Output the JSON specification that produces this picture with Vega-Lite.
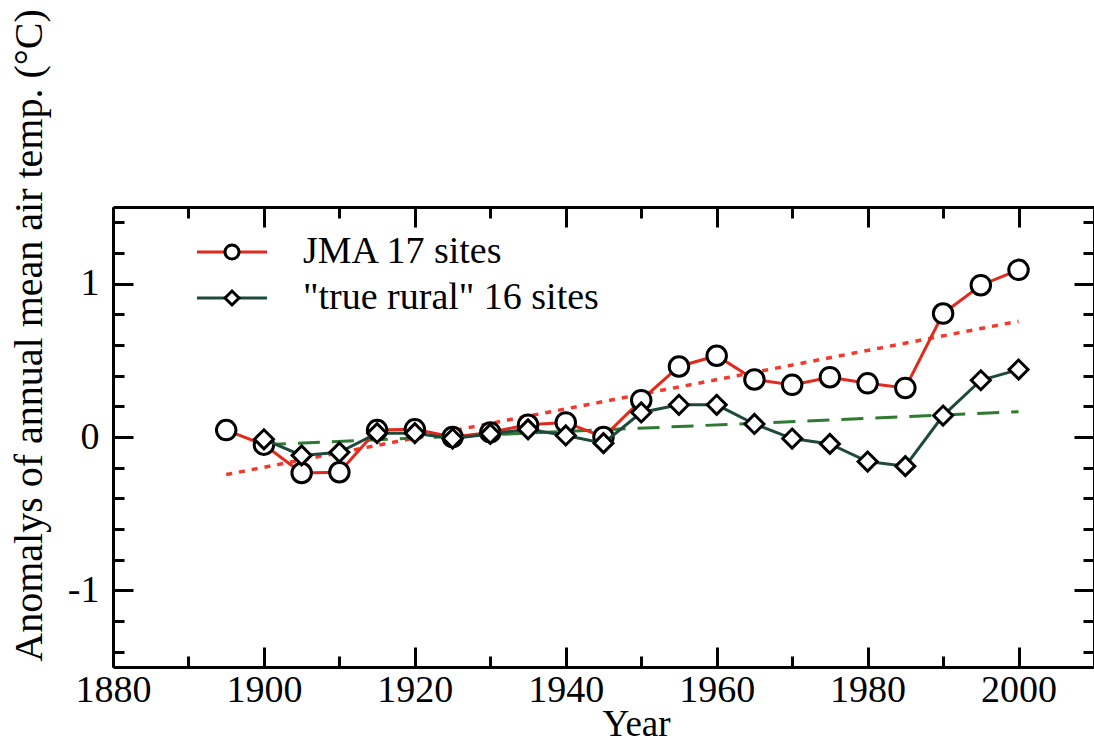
{
  "$schema": "https://vega.github.io/schema/vega-lite/v6.json",
  "width": 981,
  "height": 460,
  "autosize": {"type": "none"},
  "padding": {"left": 113, "top": 207, "right": 0, "bottom": 73},
  "background": "white",
  "config": {
    "view": {"stroke": null},
    "font": "Liberation Serif",
    "axis": {
      "domainColor": "black",
      "domainWidth": 3,
      "tickColor": "black",
      "tickWidth": 3,
      "grid": false,
      "labelFont": "Liberation Serif",
      "labelColor": "black",
      "titleFont": "Liberation Serif",
      "titleColor": "black",
      "titleFontWeight": "normal"
    },
    "legend": {"padding": 0, "labelLimit": 0}
  },
  "datasets": {
    "temps": [
      {"year": 1895, "anomaly": 0.045, "series": "JMA 17 sites", "network": "JMA"},
      {"year": 1900, "anomaly": -0.05, "series": "JMA 17 sites", "network": "JMA"},
      {"year": 1905, "anomaly": -0.235, "series": "JMA 17 sites", "network": "JMA"},
      {"year": 1910, "anomaly": -0.23, "series": "JMA 17 sites", "network": "JMA"},
      {"year": 1915, "anomaly": 0.045, "series": "JMA 17 sites", "network": "JMA"},
      {"year": 1920, "anomaly": 0.05, "series": "JMA 17 sites", "network": "JMA"},
      {"year": 1925, "anomaly": 0.0, "series": "JMA 17 sites", "network": "JMA"},
      {"year": 1930, "anomaly": 0.03, "series": "JMA 17 sites", "network": "JMA"},
      {"year": 1935, "anomaly": 0.08, "series": "JMA 17 sites", "network": "JMA"},
      {"year": 1940, "anomaly": 0.095, "series": "JMA 17 sites", "network": "JMA"},
      {"year": 1945, "anomaly": 0.0, "series": "JMA 17 sites", "network": "JMA"},
      {"year": 1950, "anomaly": 0.24, "series": "JMA 17 sites", "network": "JMA"},
      {"year": 1955, "anomaly": 0.46, "series": "JMA 17 sites", "network": "JMA"},
      {"year": 1960, "anomaly": 0.53, "series": "JMA 17 sites", "network": "JMA"},
      {"year": 1965, "anomaly": 0.375, "series": "JMA 17 sites", "network": "JMA"},
      {"year": 1970, "anomaly": 0.34, "series": "JMA 17 sites", "network": "JMA"},
      {"year": 1975, "anomaly": 0.39, "series": "JMA 17 sites", "network": "JMA"},
      {"year": 1980, "anomaly": 0.35, "series": "JMA 17 sites", "network": "JMA"},
      {"year": 1985, "anomaly": 0.32, "series": "JMA 17 sites", "network": "JMA"},
      {"year": 1990, "anomaly": 0.805, "series": "JMA 17 sites", "network": "JMA"},
      {"year": 1995, "anomaly": 0.99, "series": "JMA 17 sites", "network": "JMA"},
      {"year": 2000, "anomaly": 1.09, "series": "JMA 17 sites", "network": "JMA"},
      {"year": 1900, "anomaly": -0.015, "series": "\"true rural\" 16 sites", "network": "rural"},
      {"year": 1905, "anomaly": -0.12, "series": "\"true rural\" 16 sites", "network": "rural"},
      {"year": 1910, "anomaly": -0.1, "series": "\"true rural\" 16 sites", "network": "rural"},
      {"year": 1915, "anomaly": 0.025, "series": "\"true rural\" 16 sites", "network": "rural"},
      {"year": 1920, "anomaly": 0.025, "series": "\"true rural\" 16 sites", "network": "rural"},
      {"year": 1925, "anomaly": -0.01, "series": "\"true rural\" 16 sites", "network": "rural"},
      {"year": 1930, "anomaly": 0.02, "series": "\"true rural\" 16 sites", "network": "rural"},
      {"year": 1935, "anomaly": 0.05, "series": "\"true rural\" 16 sites", "network": "rural"},
      {"year": 1940, "anomaly": 0.01, "series": "\"true rural\" 16 sites", "network": "rural"},
      {"year": 1945, "anomaly": -0.04, "series": "\"true rural\" 16 sites", "network": "rural"},
      {"year": 1950, "anomaly": 0.16, "series": "\"true rural\" 16 sites", "network": "rural"},
      {"year": 1955, "anomaly": 0.21, "series": "\"true rural\" 16 sites", "network": "rural"},
      {"year": 1960, "anomaly": 0.21, "series": "\"true rural\" 16 sites", "network": "rural"},
      {"year": 1965, "anomaly": 0.085, "series": "\"true rural\" 16 sites", "network": "rural"},
      {"year": 1970, "anomaly": -0.01, "series": "\"true rural\" 16 sites", "network": "rural"},
      {"year": 1975, "anomaly": -0.045, "series": "\"true rural\" 16 sites", "network": "rural"},
      {"year": 1980, "anomaly": -0.16, "series": "\"true rural\" 16 sites", "network": "rural"},
      {"year": 1985, "anomaly": -0.19, "series": "\"true rural\" 16 sites", "network": "rural"},
      {"year": 1990, "anomaly": 0.14, "series": "\"true rural\" 16 sites", "network": "rural"},
      {"year": 1995, "anomaly": 0.37, "series": "\"true rural\" 16 sites", "network": "rural"},
      {"year": 2000, "anomaly": 0.44, "series": "\"true rural\" 16 sites", "network": "rural"}
    ],
    "trends": [
      {"year": 1895, "anomaly": -0.245, "series": "JMA 17 sites"},
      {"year": 2000, "anomaly": 0.755, "series": "JMA 17 sites"},
      {"year": 1900, "anomaly": -0.05, "series": "\"true rural\" 16 sites"},
      {"year": 2000, "anomaly": 0.165, "series": "\"true rural\" 16 sites"}
    ]
  },
  "layer": [
    {
      "data": {"name": "trends"},
      "transform": [{"filter": "datum.series === 'JMA 17 sites'"}],
      "mark": {"type": "line", "color": "#f23a2c", "strokeWidth": 3.5, "strokeDash": [6, 7]},
      "encoding": {
        "x": {
          "field": "year", "type": "quantitative",
          "scale": {"domain": [1880, 2010], "nice": false, "zero": false},
          "axis": {
            "orient": "top", "title": null, "labels": false,
            "values": [1880, 1890, 1900, 1910, 1920, 1930, 1940, 1950, 1960, 1970, 1980, 1990, 2000],
            "tickSize": {"condition": {"test": "datum.value % 20 === 0", "value": -20}, "value": -11}
          }
        },
        "y": {
          "field": "anomaly", "type": "quantitative",
          "scale": {"domain": [-1.5, 1.5], "nice": false, "zero": false},
          "axis": {
            "orient": "right", "title": null, "labels": false,
            "values": [-1.4, -1.2, -1, -0.8, -0.6, -0.4, -0.2, 0, 0.2, 0.4, 0.6, 0.8, 1, 1.2, 1.4],
            "tickSize": {"condition": {"test": "abs(datum.value - round(datum.value)) < 0.001", "value": -20}, "value": -11}
          }
        }
      }
    },
    {
      "data": {"name": "trends"},
      "transform": [{"filter": "datum.series !== 'JMA 17 sites'"}],
      "mark": {"type": "line", "color": "#2e7a30", "strokeWidth": 3, "strokeDash": [22, 12]},
      "encoding": {
        "x": {"field": "year", "type": "quantitative", "axis": null},
        "y": {"field": "anomaly", "type": "quantitative", "axis": null}
      }
    },
    {
      "data": {"name": "temps"},
      "transform": [{"filter": "datum.series === 'JMA 17 sites'"}],
      "mark": {"type": "line", "strokeWidth": 3},
      "encoding": {
        "x": {
          "field": "year", "type": "quantitative",
          "axis": {
            "orient": "bottom", "title": "Year",
            "values": [1880, 1890, 1900, 1910, 1920, 1930, 1940, 1950, 1960, 1970, 1980, 1990, 2000],
            "tickSize": {"condition": {"test": "datum.value % 20 === 0", "value": -20}, "value": -11},
            "labelExpr": "datum.value % 20 === 0 ? toString(datum.value) : ''",
            "labelFlush": false,
            "labelFont": "Liberation Serif", "titleFont": "Liberation Serif",
            "labelFontSize": 38, "labelPadding": 24, "labelBaseline": "top",
            "titleFontSize": 37, "titleX": 523, "titleY": 68, "titleBaseline": "alphabetic", "titleAlign": "center"
          }
        },
        "y": {
          "field": "anomaly", "type": "quantitative",
          "axis": {
            "orient": "left", "title": "Anomalys of annual mean air temp. (°C)",
            "values": [-1.4, -1.2, -1, -0.8, -0.6, -0.4, -0.2, 0, 0.2, 0.4, 0.6, 0.8, 1, 1.2, 1.4],
            "tickSize": {"condition": {"test": "abs(datum.value - round(datum.value)) < 0.001", "value": -20}, "value": -11},
            "labelExpr": "abs(datum.value - round(datum.value)) < 0.001 ? toString(round(datum.value)) : ''",
            "labelFlush": false,
            "labelFont": "Liberation Serif", "titleFont": "Liberation Serif",
            "labelFontSize": 38, "labelPadding": 34,
            "titleFontSize": 40, "titleX": -84, "titleY": 128, "titleAlign": "center", "titleBaseline": "middle", "titleAngle": -90
          }
        },
        "color": {
          "field": "series", "type": "nominal",
          "scale": {"domain": ["JMA 17 sites", "\"true rural\" 16 sites"], "range": ["#e3291b", "#1d4a3b"]},
          "legend": {
            "title": null, "orient": "none", "legendX": 100, "legendY": 26,
            "symbolType": "M-5,0H5", "symbolSize": 196, "symbolStrokeWidth": 3, "symbolDash": [1, 0],
            "labelFont": "Liberation Serif", "labelFontSize": 38, "labelColor": "black", "labelLimit": 0,
            "labelOffset": 52, "rowPadding": 8
          }
        }
      }
    },
    {
      "data": {"name": "temps"},
      "transform": [{"filter": "datum.series === 'JMA 17 sites'"}],
      "mark": {"type": "point", "filled": true, "fill": "white", "stroke": "black", "strokeWidth": 3, "size": 380, "opacity": 1},
      "encoding": {
        "x": {"field": "year", "type": "quantitative", "axis": null},
        "y": {"field": "anomaly", "type": "quantitative", "axis": null},
        "shape": {
          "field": "network", "type": "nominal",
          "scale": {"domain": ["JMA", "rural"], "range": ["circle", "diamond"]},
          "legend": {
            "title": null, "orient": "none", "legendX": 100, "legendY": 26,
            "symbolSize": 196, "symbolStrokeWidth": 3,
            "labelFont": "Liberation Serif", "labelFontSize": 38, "labelOpacity": 0, "labelLimit": 0,
            "labelOffset": 52, "rowPadding": 8,
            "encode": {
              "symbols": {
                "fill": {"value": "white"},
                "stroke": {"value": "black"},
                "strokeWidth": {"value": 3},
                "opacity": {"value": 1}
              }
            }
          }
        }
      }
    },
    {
      "data": {"name": "temps"},
      "transform": [{"filter": "datum.series !== 'JMA 17 sites'"}],
      "mark": {"type": "line", "strokeWidth": 3},
      "encoding": {
        "x": {"field": "year", "type": "quantitative", "axis": null},
        "y": {"field": "anomaly", "type": "quantitative", "axis": null},
        "color": {"field": "series", "type": "nominal"}
      }
    },
    {
      "data": {"name": "temps"},
      "transform": [{"filter": "datum.series !== 'JMA 17 sites'"}],
      "mark": {"type": "point", "filled": true, "fill": "white", "stroke": "black", "strokeWidth": 3, "size": 360, "opacity": 1},
      "encoding": {
        "x": {"field": "year", "type": "quantitative", "axis": null},
        "y": {"field": "anomaly", "type": "quantitative", "axis": null},
        "shape": {"field": "network", "type": "nominal"}
      }
    }
  ]
}
